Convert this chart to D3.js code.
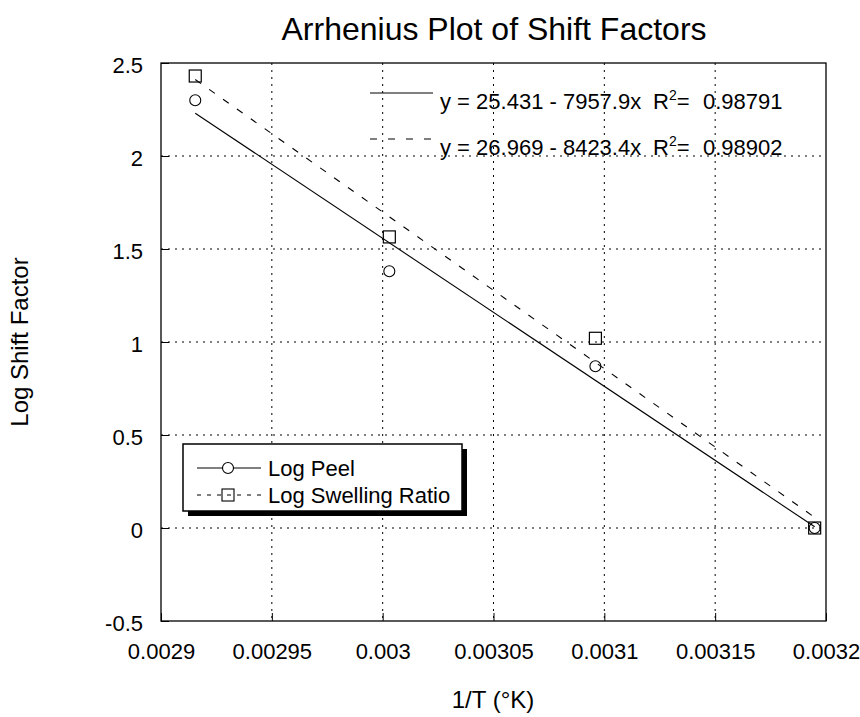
<!DOCTYPE html>
<html>
<head>
<meta charset="utf-8">
<script src="https://cdn.jsdelivr.net/npm/d3@7"></script>
<style>
  html, body { margin: 0; padding: 0; background: #fff; }
  svg { display: block; font-family: "Liberation Sans", Arial, sans-serif; }
</style>
</head>
<body>
<svg id="chart" width="860" height="717"></svg>
<script>
// Inverse absolute temperature (1/K) of each test temperature
const invT = [1 / 343, 1 / 333, 1 / 323, 1 / 313];
// Log shift factors for each series
const logPeel = [2.30, 1.38, 0.87, 0.0];
const logSwelling = [2.43, 1.565, 1.02, 0.0];
// Linear fits: y = intercept + slope * x
const seriesNames = ["Log Peel", "Log Swelling Ratio"];
const fitIntercepts = [25.431, 26.969];
const fitSlopes = [-7957.9, -8423.4];
const fitR2 = [0.98791, 0.98902];
// Axis ticks
const xTicks = [0.0029, 0.00295, 0.003, 0.00305, 0.0031, 0.00315, 0.0032];
const xTickLabels = ["0.0029", "0.00295", "0.003", "0.00305", "0.0031", "0.00315", "0.0032"];
const yTicks = [-0.5, 0, 0.5, 1, 1.5, 2, 2.5];
const yTickLabels = ["-0.5", "0", "0.5", "1", "1.5", "2", "2.5"];

const svg = d3.select("#chart");
const plotL = 161, plotR = 826, plotT = 63, plotB = 621;

const x = d3.scaleLinear().domain([0.0029, 0.0032]).range([plotL, plotR]);
const y = d3.scaleLinear().domain([-0.5, 2.5]).range([plotB, plotT]);

// Dotted grid
const grid = svg.append("g").attr("stroke", "#000").attr("stroke-width", 1)
  .attr("stroke-dasharray", "2,5");
grid.selectAll("line.gx").data(xTicks.slice(1, -1)).join("line")
  .attr("x1", d => x(d)).attr("x2", d => x(d)).attr("y1", plotT).attr("y2", plotB);
grid.selectAll("line.gy").data(yTicks.slice(1, -1)).join("line")
  .attr("x1", plotL).attr("x2", plotR).attr("y1", d => y(d)).attr("y2", d => y(d));

// Axes with inward ticks
const xAxis = d3.axisBottom(x).tickValues(xTicks)
  .tickFormat((d, i) => xTickLabels[i]).tickSizeInner(-8).tickSizeOuter(0).tickPadding(22);
const yAxis = d3.axisLeft(y).tickValues(yTicks)
  .tickFormat((d, i) => yTickLabels[i]).tickSizeInner(-8).tickSizeOuter(0).tickPadding(18);

const gx = svg.append("g").attr("transform", `translate(0,${plotB})`).call(xAxis);
const gy = svg.append("g").attr("transform", `translate(${plotL},0)`).call(yAxis);
[gx, gy].forEach(g => {
  g.selectAll("text").attr("font-size", 22).attr("fill", "#000")
    .attr("font-family", "Liberation Sans, Arial, sans-serif");
  g.selectAll("line").attr("stroke", "#000");
  g.select(".domain").remove();
});
gy.selectAll("text").attr("dy", "0.42em");

// Plot frame
svg.append("rect").attr("x", plotL).attr("y", plotT)
  .attr("width", plotR - plotL).attr("height", plotB - plotT)
  .attr("fill", "none").attr("stroke", "#000").attr("stroke-width", 1.3);

// Fit lines across the data range
const xMin = d3.min(invT), xMax = d3.max(invT);
const dashes = [null, "7,10"];
fitIntercepts.forEach((b, i) => {
  const m = fitSlopes[i];
  svg.append("line")
    .attr("x1", x(xMin)).attr("y1", y(b + m * xMin))
    .attr("x2", x(xMax)).attr("y2", y(b + m * xMax))
    .attr("stroke", "#000").attr("stroke-width", 1.1)
    .attr("stroke-dasharray", dashes[i]);
});

// Markers
const swellPts = invT.map((t, i) => [t, logSwelling[i]]);
const peelPts = invT.map((t, i) => [t, logPeel[i]]);
svg.append("g").selectAll("rect").data(swellPts).join("rect")
  .attr("x", d => x(d[0]) - 6).attr("y", d => y(d[1]) - 6)
  .attr("width", 12).attr("height", 12)
  .attr("fill", "none").attr("stroke", "#000").attr("stroke-width", 1.2);
svg.append("g").selectAll("circle").data(peelPts).join("circle")
  .attr("cx", d => x(d[0])).attr("cy", d => y(d[1])).attr("r", 5.5)
  .attr("fill", "none").attr("stroke", "#000").attr("stroke-width", 1.1);

// Regression equations
const eqRows = [93, 139];
const eqDash = [null, "7,11"];
fitIntercepts.forEach((b, i) => {
  const yy = eqRows[i];
  svg.append("line").attr("x1", 370).attr("x2", 433).attr("y1", yy).attr("y2", yy)
    .attr("stroke", "#000").attr("stroke-width", 1).attr("stroke-dasharray", eqDash[i]);
  svg.append("text").attr("x", 440).attr("y", yy + 16).attr("font-size", 22)
    .text(`y = ${b.toFixed(3)} - ${Math.abs(fitSlopes[i]).toFixed(1)}x`);
  const r = svg.append("text").attr("x", 653).attr("y", yy + 16).attr("font-size", 22);
  r.append("tspan").text("R");
  r.append("tspan").attr("font-size", 14).attr("dy", -9).text("2");
  r.append("tspan").attr("dy", 9).text("=");
  r.append("tspan").attr("x", 703).text(fitR2[i].toFixed(5));
});

// Legend box with drop shadow
const lg = { x: 183, y: 444, w: 279, h: 67 };
svg.append("rect").attr("x", lg.x + 5).attr("y", lg.y + 5).attr("width", lg.w).attr("height", lg.h)
  .attr("fill", "#000");
svg.append("rect").attr("x", lg.x).attr("y", lg.y).attr("width", lg.w).attr("height", lg.h)
  .attr("fill", "#fff").attr("stroke", "#000").attr("stroke-width", 1.5);

const legRows = [468, 495];
const legDash = [null, "4,6"];
seriesNames.forEach((name, i) => {
  const yy = legRows[i];
  svg.append("line").attr("x1", 197).attr("x2", 261).attr("y1", yy).attr("y2", yy)
    .attr("stroke", "#000").attr("stroke-width", 1).attr("stroke-dasharray", legDash[i]);
  if (i === 0) {
    svg.append("circle").attr("cx", 228).attr("cy", yy).attr("r", 5.5)
      .attr("fill", "#fff").attr("stroke", "#000").attr("stroke-width", 1.1);
  } else {
    svg.append("rect").attr("x", 222).attr("y", yy - 6).attr("width", 12).attr("height", 12)
      .attr("fill", "none").attr("stroke", "#000").attr("stroke-width", 1.1);
  }
  svg.append("text").attr("x", 268).attr("y", yy + 8).attr("font-size", 22).text(name);
});

// Titles
svg.append("text").attr("x", 494).attr("y", 40).attr("text-anchor", "middle")
  .attr("font-size", 32).text("Arrhenius Plot of Shift Factors");
svg.append("text").attr("x", 493).attr("y", 708).attr("text-anchor", "middle")
  .attr("font-size", 24).text("1/T (°K)");
svg.append("text").attr("transform", "translate(28,342) rotate(-90)")
  .attr("text-anchor", "middle").attr("font-size", 24).text("Log Shift Factor");
</script>
</body>
</html>
